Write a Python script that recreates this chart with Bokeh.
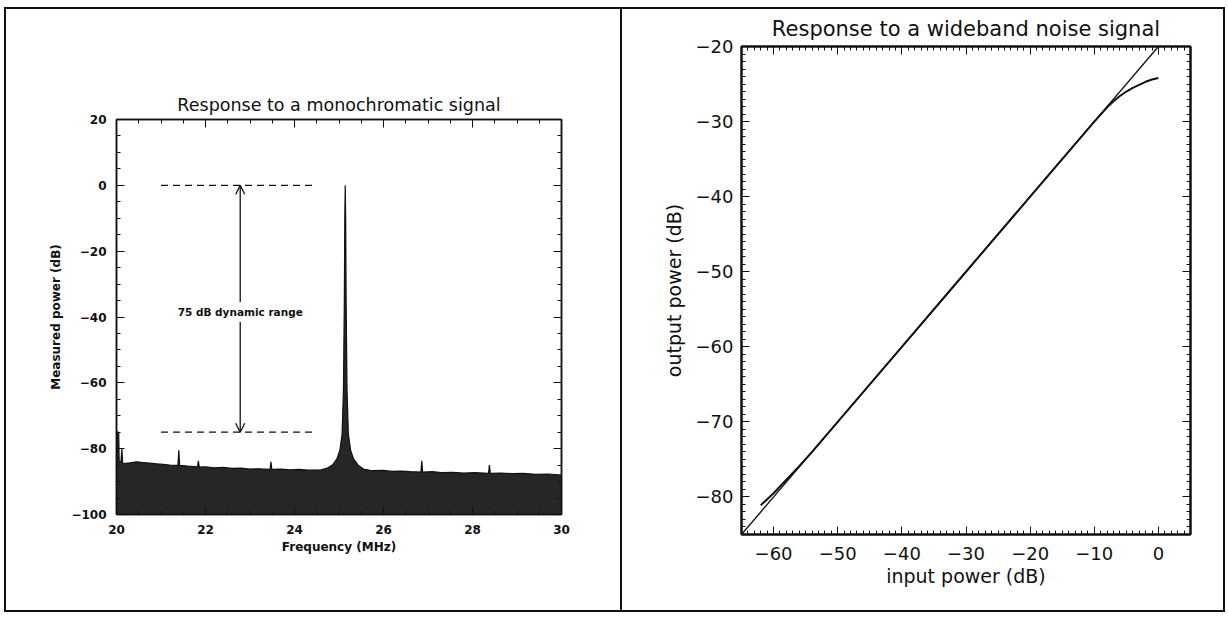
from bokeh.plotting import figure
from bokeh.layouts import row, column
from bokeh.models import (Range1d, LinearAxis, SingleIntervalTicker, Arrow, OpenHead,
                          Label, ColumnDataSource)
from bokeh.embed import file_html
from bokeh.resources import INLINE

# ---------------- Left panel data: spectrum envelope ----------------
freq_mhz = [20.00, 20.02, 20.05, 20.06, 20.10, 20.12, 20.14, 20.30, 20.45, 20.60,
            20.75, 20.90, 21.05, 21.20, 21.38, 21.40, 21.42, 21.60, 21.82, 21.84,
            21.86, 22.00, 22.20, 22.40, 22.60, 22.80, 23.00, 23.20, 23.45, 23.47,
            23.49, 23.70, 23.90, 24.10, 24.30, 24.60, 24.75, 24.85, 24.95, 25.02,
            25.07, 25.10, 25.12, 25.13, 25.14, 25.15, 25.16, 25.18, 25.21, 25.26,
            25.33, 25.43, 25.55, 25.75, 26.00, 26.20, 26.40, 26.60, 26.84, 26.86,
            26.88, 27.10, 27.30, 27.55, 27.80, 28.05, 28.36, 28.38, 28.40, 28.65,
            28.90, 29.15, 29.40, 29.70, 30.00]
power_db = [-86.0, -75.0, -75.0, -84.0, -84.0, -80.0, -84.5, -84.3, -84.0, -84.2,
            -84.4, -84.6, -84.8, -85.0, -85.1, -80.5, -85.1, -85.3, -85.5, -83.7,
            -85.6, -85.5, -85.8, -85.7, -86.0, -85.9, -86.2, -86.1, -86.3, -84.0,
            -86.3, -86.2, -86.4, -86.3, -86.5, -86.4, -85.8, -85.0, -83.2, -80.5,
            -75.5, -62.0, -35.0, -10.0, 0.0, -10.0, -35.0, -62.0, -75.5, -80.5,
            -83.2, -85.0, -86.2, -86.7, -86.6, -86.9, -86.8, -87.0, -87.1, -83.7,
            -87.1, -87.0, -87.3, -87.2, -87.4, -87.3, -87.5, -85.0, -87.5, -87.4,
            -87.6, -87.5, -87.8, -87.7, -88.0]
floor_db = -100.0
range_top_db = 0.0
range_bottom_db = -75.0
range_line_mhz = [21.0, 24.5]
arrow_mhz = 22.78
range_label = "75 dB dynamic range"

# ---------------- Right panel data ----------------
in_range_db = [-65.0, 5.0]
out_range_db = [-85.0, -20.0]
ideal_in_db = [-65.0, 0.0]
ideal_out_db = [-85.0, -20.0]
meas_in_db = [-62.0, -60.0, -58.0, -56.0, -54.0, -50.0, -40.0, -30.0, -20.0, -10.0,
              -8.0, -7.0, -6.0, -5.0, -4.0, -3.0, -2.0, -1.0, 0.0]
meas_out_db = [-81.1, -79.5, -77.7, -75.9, -74.0, -70.0, -60.0, -50.0, -40.0, -30.0,
               -28.1, -27.3, -26.6, -26.0, -25.5, -25.1, -24.7, -24.4, -24.2]

INK = "#111111"
PANEL_H = 605


def style_axis(ax, font, size, style, maj_in, min_in, width):
    ax.major_tick_in = maj_in
    ax.major_tick_out = 0
    ax.minor_tick_in = min_in
    ax.minor_tick_out = 0
    ax.axis_line_width = width
    ax.major_tick_line_width = 1
    ax.minor_tick_line_width = 1
    ax.axis_line_color = INK
    ax.major_tick_line_color = INK
    ax.minor_tick_line_color = INK
    ax.major_label_text_font = font
    ax.major_label_text_font_size = size
    ax.major_label_text_font_style = style
    ax.major_label_text_color = INK


def add_mirror(p, xt, yt, maj_in, min_in, width):
    top = LinearAxis(ticker=xt)
    right = LinearAxis(ticker=yt)
    for ax in (top, right):
        style_axis(ax, "DejaVu Sans", "1px", "normal", maj_in, min_in, width)
        ax.major_label_text_color = None
        ax.major_label_standoff = 0
    p.add_layout(top, "above")
    p.add_layout(right, "right")


# ---------------- Left figure ----------------
LF = "DejaVu Sans"
left = figure(width=618, height=PANEL_H, output_backend="svg", toolbar_location=None,
              x_range=Range1d(20, 30), y_range=Range1d(-100, 20),
              min_border_left=110, min_border_right=63, min_border_top=110,
              min_border_bottom=PANEL_H - 505)
left.grid.visible = False
left.outline_line_color = INK
left.outline_line_width = 1.5
left.background_fill_color = "white"
left.border_fill_color = "white"
left.title.text = "Response to a monochromatic signal"
left.title.align = "center"
left.title.text_font = LF
left.title.text_font_size = "17.5px"
left.title.text_font_style = "normal"
left.title.text_color = INK
left.title.offset = 0

left.xaxis.ticker = SingleIntervalTicker(interval=2, num_minor_ticks=4)
left.yaxis.ticker = SingleIntervalTicker(interval=20, num_minor_ticks=4)
for ax in left.xaxis + left.yaxis:
    style_axis(ax, LF, "12px", "bold", 8, 4, 1.5)
left.xaxis.axis_label = "Frequency (MHz)"
left.yaxis.axis_label = "Measured power (dB)"
for ax in left.xaxis + left.yaxis:
    ax.axis_label_text_font = LF
    ax.axis_label_text_font_size = "12px"
    ax.axis_label_text_font_style = "bold"
    ax.axis_label_text_color = INK
left.xaxis.major_label_standoff = 10
left.yaxis.major_label_standoff = 10
left.xaxis.axis_label_standoff = 3
left.yaxis.axis_label_standoff = 5
add_mirror(left, SingleIntervalTicker(interval=2, num_minor_ticks=4),
           SingleIntervalTicker(interval=20, num_minor_ticks=4), 8, 4, 1.5)

spec = ColumnDataSource(dict(f=freq_mhz, p=power_db, base=[floor_db] * len(freq_mhz)))
left.varea(x="f", y1="base", y2="p", source=spec, fill_color="#262626")
left.line(x="f", y="p", source=spec, line_color=INK, line_width=1.2)

left.line(x=range_line_mhz, y=[range_top_db] * 2, line_color=INK,
          line_width=1.3, line_dash="7 5")
left.line(x=range_line_mhz, y=[range_bottom_db] * 2, line_color=INK,
          line_width=1.3, line_dash="7 5")
mid_db = (range_top_db + range_bottom_db) / 2
for end_db in (range_top_db, range_bottom_db):
    left.add_layout(Arrow(x_start=arrow_mhz, y_start=mid_db, x_end=arrow_mhz, y_end=end_db,
                          end=OpenHead(size=9, line_width=1.3, line_color=INK),
                          line_width=1.3, line_color=INK))
left.add_layout(Label(x=arrow_mhz, y=mid_db - 1, text=range_label,
                      text_align="center", text_baseline="middle",
                      text_font=LF, text_font_size="10.5px", text_font_style="bold",
                      text_color=INK, background_fill_color="white", padding=4))

# ---------------- Right figure ----------------
RF = "DejaVu Sans"
right = figure(width=603, height=PANEL_H, output_backend="svg", toolbar_location=None,
               x_range=Range1d(*in_range_db), y_range=Range1d(*out_range_db),
               min_border_left=119, min_border_right=35, min_border_top=37,
               min_border_bottom=PANEL_H - 525)
right.grid.visible = False
right.outline_line_color = INK
right.outline_line_width = 2
right.border_fill_color = "white"
right.title.text = "Response to a wideband noise signal"
right.title.align = "center"
right.title.text_font = RF
right.title.text_font_size = "21px"
right.title.text_font_style = "normal"
right.title.text_color = INK
right.title.offset = -5
right.title.standoff = 11

right.xaxis.ticker = SingleIntervalTicker(interval=10, num_minor_ticks=10)
right.yaxis.ticker = SingleIntervalTicker(interval=10, num_minor_ticks=10)
for ax in right.xaxis + right.yaxis:
    style_axis(ax, RF, "18px", "normal", 8, 4, 2)
tick_text = {v: ("\u2212" + str(-v) if v < 0 else str(v)) for v in range(-90, 10, 10)}
right.xaxis.major_label_overrides = tick_text
right.yaxis.major_label_overrides = tick_text
right.xaxis.axis_label = "input power (dB)"
right.yaxis.axis_label = "output power (dB)"
for ax in right.xaxis + right.yaxis:
    ax.axis_label_text_font = RF
    ax.axis_label_text_font_size = "19px"
    ax.axis_label_text_font_style = "normal"
    ax.axis_label_text_color = INK
right.xaxis.major_label_standoff = 12
right.yaxis.major_label_standoff = 8
right.xaxis.axis_label_standoff = 2
right.yaxis.axis_label_standoff = 8
add_mirror(right, SingleIntervalTicker(interval=10, num_minor_ticks=10),
           SingleIntervalTicker(interval=10, num_minor_ticks=10), 8, 4, 2)

right.line(x=ideal_in_db, y=ideal_out_db, line_color=INK, line_width=1.3)
right.line(x=meas_in_db, y=meas_out_db, line_color=INK, line_width=2)

left.styles = {"border": "2px solid #111", "box-sizing": "border-box"}
right.styles = {"border-top": "2px solid #111", "border-bottom": "2px solid #111",
                "border-right": "2px solid #111", "box-sizing": "border-box"}

layout = row(column(left), column(right), margin=(7, 0, 0, 4))
open("out.html", "w").write(file_html(layout, INLINE))
